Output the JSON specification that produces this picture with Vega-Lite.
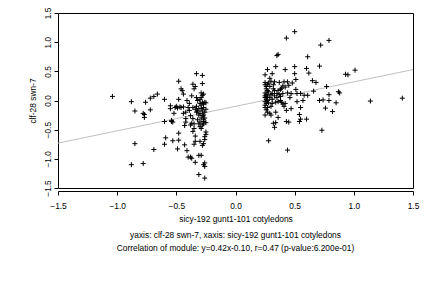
{
  "$schema": "https://vega.github.io/schema/vega-lite/v6.json",
  "width": 355,
  "height": 175,
  "autosize": {"type": "none"},
  "padding": {"left": 58, "top": 13, "right": 19, "bottom": 100},
  "background": "white",
  "config": {
    "font": "Liberation Sans",
    "view": {"stroke": "black", "strokeWidth": 1},
    "axis": {
      "domainColor": "black", "tickColor": "black", "labelColor": "black", "titleColor": "black",
      "labelFontSize": 8.4, "titleFontSize": 8.4, "titleFontWeight": "normal", "grid": false,
      "labelFont": "Liberation Sans", "titleFont": "Liberation Sans", "tickSize": 4,
      "labelOverlap": false, "labelFlush": false, "labelBound": false
    }
  },
  "title": {
    "text": ["yaxis: clf-28 swn-7, xaxis: sicy-192 gunt1-101 cotyledons", "Correlation of module: y=0.42x-0.10, r=0.47 (p-value:6.200e-01)"],
    "orient": "bottom", "anchor": "middle", "fontSize": 8.4, "fontWeight": "normal", "lineHeight": 13.3,
    "offset": 8, "color": "black", "font": "Liberation Sans"
  },
  "datasets": {
    "fit": [{"x": -1.5, "y": -0.73}, {"x": 1.5, "y": 0.53}],
    "pts": [
      {"x": -1.04, "y": 0.07}, {"x": -0.88, "y": -0.02}, {"x": -0.88, "y": -1.10}, {"x": -0.85, "y": -0.18},
      {"x": -0.85, "y": -0.74}, {"x": -0.78, "y": -0.22}, {"x": -0.77, "y": -0.24}, {"x": -0.77, "y": -0.29},
      {"x": -0.78, "y": -1.08}, {"x": -0.76, "y": -0.03}, {"x": -0.72, "y": 0.04}, {"x": -0.72, "y": -0.16},
      {"x": -0.69, "y": 0.07}, {"x": -0.66, "y": 0.11}, {"x": -0.69, "y": -0.84}, {"x": -0.60, "y": 0.02},
      {"x": -0.60, "y": -0.36}, {"x": -0.59, "y": -0.64}, {"x": -0.60, "y": -0.75}, {"x": -0.55, "y": -0.09},
      {"x": -0.55, "y": -0.14}, {"x": -0.54, "y": -0.34}, {"x": -0.53, "y": -0.37}, {"x": -0.54, "y": -0.36},
      {"x": -0.53, "y": -0.69}, {"x": -0.52, "y": -0.22}, {"x": -0.51, "y": -0.12}, {"x": -0.50, "y": -0.10},
      {"x": -0.49, "y": -0.13}, {"x": -0.48, "y": 0.33}, {"x": -0.48, "y": 0.02}, {"x": -0.48, "y": -0.56},
      {"x": -0.48, "y": -0.68}, {"x": -0.49, "y": -0.83}, {"x": -0.47, "y": -0.11}, {"x": -0.46, "y": 0.20},
      {"x": -0.45, "y": 0.17}, {"x": -0.46, "y": -0.12}, {"x": -0.44, "y": 0.11}, {"x": -0.44, "y": -0.11},
      {"x": -0.44, "y": -0.22}, {"x": -0.43, "y": -0.76}, {"x": -0.43, "y": -0.43}, {"x": -0.42, "y": -0.31},
      {"x": -0.42, "y": -0.37}, {"x": -0.41, "y": -0.86}, {"x": -0.40, "y": -0.97}, {"x": -0.40, "y": -0.12},
      {"x": -0.39, "y": -0.05}, {"x": -0.39, "y": -0.17}, {"x": -0.38, "y": -0.26}, {"x": -0.38, "y": -0.42},
      {"x": -0.38, "y": -0.97}, {"x": -0.37, "y": 0.08}, {"x": -0.37, "y": -0.39}, {"x": -0.37, "y": -0.99},
      {"x": -0.36, "y": 0.28}, {"x": -0.36, "y": -0.31}, {"x": -0.35, "y": 0.20}, {"x": -0.34, "y": 0.24},
      {"x": -0.34, "y": -0.61}, {"x": -0.34, "y": -0.70}, {"x": -0.35, "y": -0.75}, {"x": -0.35, "y": -0.40},
      {"x": -0.35, "y": -0.48}, {"x": -0.34, "y": -1.06}, {"x": -0.33, "y": 0.46}, {"x": -0.33, "y": -0.20},
      {"x": -0.33, "y": -0.10}, {"x": -0.32, "y": 0.00}, {"x": -0.31, "y": -0.14}, {"x": -0.32, "y": -0.33},
      {"x": -0.31, "y": -1.27}, {"x": -0.31, "y": -0.94}, {"x": -0.29, "y": -0.94}, {"x": -0.30, "y": -0.45},
      {"x": -0.30, "y": -0.37}, {"x": -0.30, "y": -0.22}, {"x": -0.30, "y": -0.05}, {"x": -0.29, "y": 0.13},
      {"x": -0.29, "y": 0.05}, {"x": -0.29, "y": -0.08}, {"x": -0.29, "y": -0.14}, {"x": -0.29, "y": -0.30},
      {"x": -0.28, "y": 0.43}, {"x": -0.28, "y": 0.29}, {"x": -0.28, "y": 0.09}, {"x": -0.28, "y": -0.03},
      {"x": -0.28, "y": -0.18}, {"x": -0.28, "y": -0.26}, {"x": -0.28, "y": -0.42}, {"x": -0.27, "y": 0.11},
      {"x": -0.27, "y": -0.06}, {"x": -0.27, "y": -0.12}, {"x": -0.27, "y": -0.25}, {"x": -0.27, "y": -0.33},
      {"x": -0.27, "y": -0.36}, {"x": -0.27, "y": -0.40}, {"x": -0.27, "y": -0.74}, {"x": -0.28, "y": -0.77},
      {"x": -0.26, "y": -0.62}, {"x": -0.26, "y": -0.67}, {"x": -0.26, "y": -1.07}, {"x": -0.27, "y": -1.10},
      {"x": -0.26, "y": -1.13}, {"x": -0.26, "y": -1.33}, {"x": -0.26, "y": -0.03}, {"x": -0.26, "y": -0.20},
      {"x": -0.26, "y": -0.30}, {"x": -0.25, "y": -0.04}, {"x": -0.25, "y": -0.54}, {"x": -0.25, "y": -0.58},
      {"x": -0.25, "y": -0.15}, {"x": -0.25, "y": -0.38}, {"x": -0.31, "y": -0.25}, {"x": -0.32, "y": -0.18},
      {"x": -0.33, "y": 0.05}, {"x": -0.34, "y": -0.15}, {"x": -0.36, "y": -0.12}, {"x": -0.41, "y": 0.00},
      {"x": -0.42, "y": -0.20}, {"x": -0.30, "y": 0.02}, {"x": -0.31, "y": -0.40}, {"x": -0.29, "y": -0.48},
      {"x": -0.30, "y": -0.70}, {"x": -0.36, "y": -0.53},
      {"x": 0.25, "y": 0.44}, {"x": 0.25, "y": 0.31}, {"x": 0.25, "y": 0.27}, {"x": 0.26, "y": 0.24},
      {"x": 0.25, "y": 0.13}, {"x": 0.25, "y": 0.08}, {"x": 0.25, "y": 0.05}, {"x": 0.26, "y": 0.02},
      {"x": 0.25, "y": -0.02}, {"x": 0.25, "y": -0.08}, {"x": 0.25, "y": -0.12}, {"x": 0.26, "y": -0.16},
      {"x": 0.25, "y": -0.25}, {"x": 0.26, "y": 0.10}, {"x": 0.26, "y": 0.06}, {"x": 0.27, "y": 0.53},
      {"x": 0.27, "y": 0.28}, {"x": 0.27, "y": 0.08}, {"x": 0.27, "y": 0.00}, {"x": 0.27, "y": -0.20},
      {"x": 0.28, "y": -0.69}, {"x": 0.28, "y": 0.15}, {"x": 0.28, "y": -0.04}, {"x": 0.29, "y": 0.38},
      {"x": 0.29, "y": 0.24}, {"x": 0.29, "y": 0.05}, {"x": 0.30, "y": -0.25}, {"x": 0.30, "y": -0.10},
      {"x": 0.31, "y": 0.46}, {"x": 0.31, "y": 0.12}, {"x": 0.31, "y": 0.02}, {"x": 0.32, "y": -0.39},
      {"x": 0.33, "y": -0.46}, {"x": 0.33, "y": 0.32}, {"x": 0.33, "y": 0.17}, {"x": 0.33, "y": 0.08},
      {"x": 0.34, "y": -0.38}, {"x": 0.34, "y": -0.20}, {"x": 0.34, "y": -0.03}, {"x": 0.34, "y": 0.58},
      {"x": 0.35, "y": 0.77}, {"x": 0.36, "y": 0.79}, {"x": 0.36, "y": 0.17}, {"x": 0.36, "y": -0.29},
      {"x": 0.36, "y": -0.02}, {"x": 0.37, "y": 0.31}, {"x": 0.37, "y": 0.10}, {"x": 0.38, "y": 0.19},
      {"x": 0.38, "y": 0.00}, {"x": 0.39, "y": -0.03}, {"x": 0.40, "y": 0.12}, {"x": 0.40, "y": -0.06},
      {"x": 0.41, "y": -0.10}, {"x": 0.41, "y": 0.32}, {"x": 0.42, "y": 0.53}, {"x": 0.42, "y": 0.23},
      {"x": 0.43, "y": 1.07}, {"x": 0.43, "y": -0.17}, {"x": 0.43, "y": -0.36}, {"x": 0.44, "y": 0.32},
      {"x": 0.44, "y": -0.85}, {"x": 0.45, "y": -0.37}, {"x": 0.45, "y": 0.26}, {"x": 0.47, "y": 0.12},
      {"x": 0.47, "y": -0.14}, {"x": 0.50, "y": 1.18}, {"x": 0.50, "y": 0.58}, {"x": 0.50, "y": 0.46},
      {"x": 0.51, "y": 0.36}, {"x": 0.51, "y": 0.19}, {"x": 0.52, "y": 0.12}, {"x": 0.52, "y": -0.02},
      {"x": 0.54, "y": -0.24}, {"x": 0.54, "y": -0.36}, {"x": 0.55, "y": -0.32}, {"x": 0.55, "y": -0.12},
      {"x": 0.55, "y": 0.12}, {"x": 0.57, "y": 0.00}, {"x": 0.58, "y": 0.09}, {"x": 0.60, "y": 0.55},
      {"x": 0.61, "y": 0.09}, {"x": 0.61, "y": 0.75}, {"x": 0.62, "y": 0.47}, {"x": 0.60, "y": -0.32},
      {"x": 0.65, "y": 0.34}, {"x": 0.66, "y": 0.16}, {"x": 0.68, "y": 0.31}, {"x": 0.71, "y": 0.59},
      {"x": 0.71, "y": 0.00}, {"x": 0.72, "y": 0.95}, {"x": 0.74, "y": 0.01}, {"x": 0.73, "y": -0.51},
      {"x": 0.76, "y": -0.13}, {"x": 0.77, "y": 0.24}, {"x": 0.79, "y": 1.03}, {"x": 0.79, "y": 0.10},
      {"x": 0.79, "y": 0.00}, {"x": 0.82, "y": -0.19}, {"x": 0.85, "y": -0.04}, {"x": 0.87, "y": 0.15},
      {"x": 0.88, "y": 0.13}, {"x": 0.93, "y": 0.45}, {"x": 0.95, "y": 0.44}, {"x": 1.01, "y": 0.52},
      {"x": 1.14, "y": -0.01}, {"x": 1.41, "y": 0.04},
      {"x": 0.26, "y": 0.20}, {"x": 0.27, "y": 0.17}, {"x": 0.28, "y": 0.30}, {"x": 0.30, "y": 0.33},
      {"x": 0.32, "y": 0.27}, {"x": 0.26, "y": -0.05}, {"x": 0.27, "y": -0.12}, {"x": 0.29, "y": -0.22},
      {"x": 0.31, "y": -0.05}, {"x": 0.35, "y": 0.05}, {"x": 0.35, "y": 0.12}, {"x": 0.38, "y": 0.07},
      {"x": 0.39, "y": 0.21}, {"x": 0.42, "y": -0.05}, {"x": 0.46, "y": 0.05}, {"x": 0.30, "y": 0.10},
      {"x": 0.32, "y": 0.20}, {"x": 0.40, "y": 0.25}, {"x": 0.44, "y": 0.13}, {"x": 0.48, "y": 0.30}
    ]
  },
  "encoding": {
    "x": {"field": "x", "type": "quantitative",
      "scale": {"domain": [-1.5, 1.5], "nice": false, "zero": false},
      "axis": {"title": "sicy-192 gunt1-101 cotyledons", "values": [-1.5, -1.0, -0.5, 0.0, 0.5, 1.0, 1.5], "format": ".1f", "offset": 3, "labelPadding": 6, "titlePadding": 5}},
    "y": {"field": "y", "type": "quantitative",
      "scale": {"domain": [-1.5, 1.5], "nice": false, "zero": false},
      "axis": {"title": "clf-28 swn-7", "values": [-1.5, -1.0, -0.5, 0.0, 0.5, 1.0, 1.5], "format": ".1f", "labelAngle": -90, "labelAlign": "center", "labelBaseline": "bottom", "labelPadding": 2, "titlePadding": 6, "labelOverlap": false}}
  },
  "layer": [
    {
      "data": {"name": "fit"},
      "mark": {"type": "line", "color": "#c0c0c0", "strokeWidth": 1}
    },
    {
      "data": {"name": "pts"},
      "mark": {"type": "point", "shape": "M-1,0H1M0,-1V1", "size": 25, "filled": false, "stroke": "black", "strokeWidth": 1, "opacity": 1}
    }
  ]
}
